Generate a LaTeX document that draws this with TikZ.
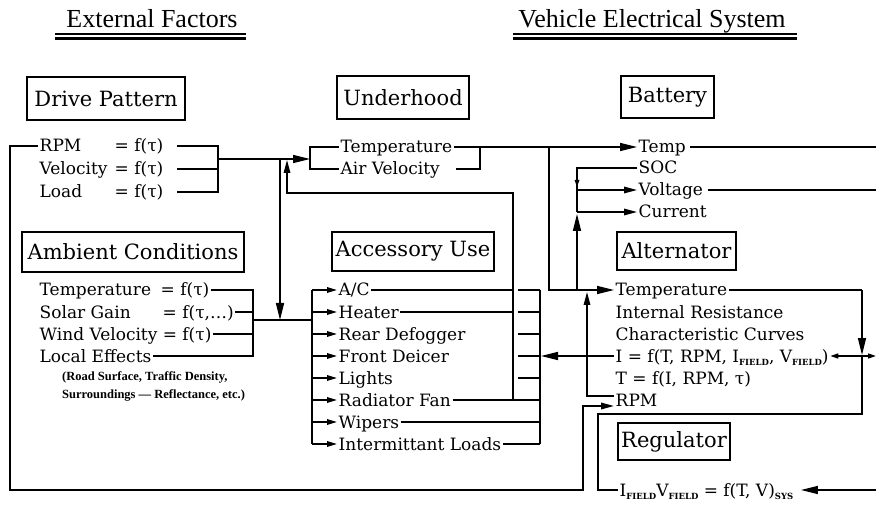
\documentclass[tikz,border=0pt]{standalone}
\usepackage{fontspec}
\setmainfont{DejaVu Serif}
\newfontfamily\headfont{Liberation Serif}
\usetikzlibrary{arrows.meta}
\newcommand{\sbs}[1]{\raisebox{-3pt}{\fontsize{8.5}{9}\selectfont\bfseries #1}}
\begin{document}
\begin{tikzpicture}[x=1pt,y=-1pt,
  ln/.style={line width=1.5pt},
  box/.style={draw, line width=1.3pt, inner sep=0pt, font=\fontsize{21}{24}\selectfont},
  item/.style={anchor=west, inner xsep=1.5pt, inner ysep=0pt, text height=12pt, text depth=0pt, font=\fontsize{17}{18}\selectfont},
  head/.style={anchor=base, font=\headfont\fontsize{26}{28}\selectfont},
  note/.style={anchor=west, align=left, inner sep=0pt, font=\headfont\bfseries\fontsize{12.5}{18}\selectfont},
  big/.style={-{Triangle[length=17pt,width=8pt]}},
  med/.style={-{Triangle[length=13pt,width=6.5pt]}},
  sml/.style={-{Triangle[length=10pt,width=5.5pt]}},
  tiny/.style={-{Triangle[length=7pt,width=4.5pt]}},
]
\path[fill=white] (0,0) rectangle (876,505);
\useasboundingbox (0,0) rectangle (876,505);

% headings
\node[head] (hext) at (152,28) {External Factors};
\node[head] (hveh) at (652,28) {Vehicle Electrical System};
\draw[line width=1.1pt] (55,34) -- (246,34);
\draw[line width=2.2pt] (55,38.5) -- (246,38.5);
\draw[line width=1.1pt] (513,34) -- (797,34);
\draw[line width=2.2pt] (513,38.5) -- (797,38.5);

% boxes
\node[box, minimum width=158pt, minimum height=43pt] (drive) at (106,98.5) {Drive Pattern};
\node[box, minimum width=132pt, minimum height=43pt] (under) at (403,97.5) {Underhood};
\node[box, minimum width=93pt, minimum height=42pt] (batt) at (667.5,97) {Battery};
\node[box, minimum width=222pt, minimum height=40pt] (amb) at (133,252) {Ambient Conditions};
\node[box, minimum width=162pt, minimum height=39pt] (acc) at (413,251.5) {Accessory Use};
\node[box, minimum width=119pt, minimum height=38pt] (alt) at (676.5,251) {Alternator};
\node[box, minimum width=112pt, minimum height=37pt] (reg) at (674,441.5) {Regulator};

% drive pattern items
\node[item] (rpm) at (38,146) {\makebox[75pt][l]{RPM}= f(τ)};
\node[item] (vel) at (38,169) {\makebox[75pt][l]{Velocity}= f(τ)};
\node[item] (load) at (38,192) {\makebox[75pt][l]{Load}= f(τ)};
\draw[ln] (177,146) -- (218,146) -- (218,192) -- (177,192);
\draw[ln] (177,169) -- (218,169);

% underhood items
\node[item] (uhT) at (339,147) {Temperature};
\node[item] (uhA) at (339,169) {Air Velocity};
\draw[ln] (uhT.west) -- (310,147) -- (310,169) -- (uhA.west);
\draw[ln, big] (218,159) -- (310,159);
\draw[ln] (456,169) -- (480,169) -- (480,147);

% battery items
\node[item] (btT) at (637,147) {Temp};
\node[item] (btS) at (637,168) {SOC};
\node[item] (btV) at (637,190) {Voltage};
\node[item] (btC) at (637,212) {Current};
\draw[ln, big] (uhT.east) -- (btT.west);
\draw[ln] ([xshift=3pt]btT.east) -- (876,147);
\draw[ln] ([xshift=3pt]btV.east) -- (876,190);
\draw[ln] (btS.west) -- (577,168) -- (577,212);
\draw[ln, tiny] (577,168) -- (577,187);
\draw[ln, med] (577,190) -- (btV.west);
\draw[ln, med] (577,212) -- (btC.west);

% ambient items
\node[item] (aT) at (38,290) {\makebox[121pt][l]{Temperature}= f(τ)};
\node[item] (aS) at (38,312) {\makebox[123pt][l]{Solar Gain}= f(τ,…)};
\node[item] (aW) at (38,334) {Wind Velocity = f(τ)};
\node[item] (aL) at (38,356) {Local Effects};
\node[note] (aN) at (62,386) {(Road Surface, Traffic Density,\\Surroundings — Reflectance, etc.)};
\draw[ln] (aT.east) -- (253,290) -- (253,356) -- (aL.east);
\draw[ln] (aS.east) -- (253,312);
\draw[ln] (aW.east) -- (253,334);
\draw[ln] (253,320) -- (312,320);
\draw[ln, big] (280,159) -- (280,320);

% accessory items
\node[item] (c1) at (337,290) {A/C};
\node[item] (c2) at (337,312) {Heater};
\node[item] (c3) at (337,334) {Rear Defogger};
\node[item] (c4) at (337,356) {Front Deicer};
\node[item] (c5) at (337,378) {Lights};
\node[item] (c6) at (337,400) {Radiator Fan};
\node[item] (c7) at (337,422) {Wipers};
\node[item] (c8) at (337,444) {Intermittant Loads};
\draw[ln] (312,290) -- (312,444);
\foreach \n/\y in {c1/290,c2/312,c3/334,c4/356,c5/378,c6/400,c7/422,c8/444}
  \draw[ln, sml] (312,\y) -- (\n.west);
\draw[ln] (c1.east) -- (513,290);
\draw[ln] (c2.east) -- (513,312);
\foreach \y in {290,312,334,356,378}
  \draw[ln] (518,\y) -- (540,\y);
\draw[ln] (c6.east) -- (540,400);
\draw[ln] (c7.east) -- (540,422);
\draw[ln] (c8.east) -- (540,444);
\draw[ln] (540,290) -- (540,444);
\draw[ln, med] (513,400) -- (513,193) -- (287,193) -- (287,160);

% alternator items
\node[item] (altT) at (614,290) {Temperature};
\node[item] (altR) at (614,312) {Internal Resistance};
\node[item] (altC) at (614,334) {Characteristic Curves};
\node[item] (altI) at (614,356) {I = f(T, RPM, I\sbs{FIELD}, V\sbs{FIELD})};
\node[item] (altTf) at (614,378) {T = f(I, RPM, τ)};
\node[item] (altP) at (614,400) {RPM};
\draw[ln, big] (549,147) -- (549,290) -- (altT.west);
\draw[ln, big] (577,290) -- (577,214);
\draw[ln, med] (altP.west |- 0,396) -- (587,396) -- (587,292);
\draw[ln, big] (altI.west) -- (541,356);
\draw[ln] (altT.east) -- (862,290);
\draw[ln, big] (862,290) -- (862,355);
\draw[ln, {Triangle[length=8pt,width=5pt]}-{Triangle[length=8pt,width=5pt]}] (altI.east) -- (876,356);

% regulator
\node[item] (regf) at (618,490) {I\sbs{FIELD}V\sbs{FIELD} = f(T, V)\sbs{SYS}};
\draw[ln] (862,355) -- (862,414) -- (598,414) -- (598,490) -- (regf.west);
\draw[ln, big] (876,490) -- ([xshift=6pt]regf.east);

% engine RPM loop
\draw[line width=1.7pt, med] (rpm.west) -- (10,146) -- (10,490) -- (583,490) -- (583,406) -- (altP.west |- 0,406);
\draw[line width=2.6pt] (10,490) -- (583,490);
\end{tikzpicture}
\end{document}
